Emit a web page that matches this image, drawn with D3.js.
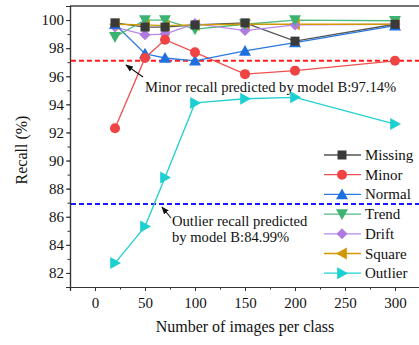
<!DOCTYPE html>
<html lang="en">
<head>
<meta charset="utf-8">
<title>Recall vs images per class</title>
<script src="https://d3js.org/d3.v7.min.js"></script>
<style>
  body { margin: 0; background: #fff; }
  text { font-family: "Liberation Serif", "Times New Roman", serif; fill: #111; }
</style>
</head>
<body>
<script>
// data
var images = [20, 50, 70, 100, 150, 200, 300];
var missing = [99.8, 99.5, 99.5, 99.65, 99.8, 98.5, 99.7];
var minor   = [92.3, 97.3, 98.6, 97.7, 96.15, 96.4, 97.1];
var normal  = [99.7, 97.6, 97.3, 97.1, 97.8, 98.4, 99.6];
var trend   = [98.8, 100.0, 100.0, 99.35, 99.7, 100.0, 99.95];
var drift   = [99.5, 98.95, 99.0, 99.75, 99.25, 99.65, 99.7];
var square  = [99.7, 99.65, 99.6, 99.65, 99.7, 99.7, 99.7];
var outlier = [82.7, 85.3, 88.8, 94.1, 94.4, 94.5, 92.6];
var yTicks = [82, 84, 86, 88, 90, 92, 94, 96, 98, 100];
var xTicks = [0, 50, 100, 150, 200, 250, 300];
var minorLine = 97.1, outlierLine = 86.9;

var series = [
  {name: "Missing", v: missing, line: "#555", fill: "#3a3a3a", sym: "square"},
  {name: "Minor",   v: minor,   line: "#f05050", fill: "#ee4444", sym: "circle"},
  {name: "Normal",  v: normal,  line: "#2a78e0", fill: "#1e6fe0", sym: "up"},
  {name: "Trend",   v: trend,   line: "#4cbb7f", fill: "#3cb371", sym: "down"},
  {name: "Drift",   v: drift,   line: "#b888e8", fill: "#b07be0", sym: "diamond"},
  {name: "Square",  v: square,  line: "#d09a00", fill: "#cf9700", sym: "left"},
  {name: "Outlier", v: outlier, line: "#22d0d0", fill: "#1ccfd0", sym: "right"}
];

var W = 419, H = 345;
var x = d3.scaleLinear().domain([-25, 325]).range([70, 420]);
var y = d3.scaleLinear().domain([81, 101]).range([287, 6]);

var svg = d3.select("body").append("svg").attr("width", W).attr("height", H);

function tri(dir, s) {
  // s = half size
  var p;
  if (dir == "up") p = [[0, -s], [s, s * 0.8], [-s, s * 0.8]];
  if (dir == "down") p = [[0, s], [s, -s * 0.8], [-s, -s * 0.8]];
  if (dir == "left") p = [[-s, 0], [s * 0.8, -s], [s * 0.8, s]];
  if (dir == "right") p = [[s, 0], [-s * 0.8, -s], [-s * 0.8, s]];
  return "M" + p.map(function(q) { return q.join(","); }).join("L") + "Z";
}
function marker(g, sym, color) {
  if (sym == "square") g.append("rect").attr("x", -4.5).attr("y", -4.5).attr("width", 9).attr("height", 9).attr("fill", color);
  else if (sym == "circle") g.append("circle").attr("r", 5).attr("fill", color);
  else if (sym == "diamond") g.append("path").attr("d", "M0,-5.5L5.5,0L0,5.5L-5.5,0Z").attr("fill", color);
  else g.append("path").attr("d", tri(sym, 6)).attr("fill", color);
}

// frame: top border and axes
svg.append("line").attr("x1", 70).attr("x2", 420).attr("y1", 6).attr("y2", 6)
  .attr("stroke", "#444").attr("stroke-width", 1.3);

var yAxis = svg.append("g").attr("transform", "translate(70,0)")
  .call(d3.axisLeft(y).tickValues(yTicks).tickSize(4).tickPadding(2).tickFormat(d3.format("d")));
svg.append("g").attr("transform", "translate(70,0)")
  .call(d3.axisLeft(y).tickValues(d3.range(81, 102, 1)).tickSize(2.5).tickFormat(""));
var xAxis = svg.append("g").attr("transform", "translate(0,287)")
  .call(d3.axisBottom(x).tickValues(xTicks).tickSize(4).tickPadding(6).tickFormat(d3.format("d")));
svg.append("g").attr("transform", "translate(0,287)")
  .call(d3.axisBottom(x).tickValues(d3.range(-25, 326, 25)).tickSize(2.5).tickFormat(""));
svg.selectAll(".domain").attr("stroke", "#333").attr("stroke-width", 1.2);
svg.selectAll(".tick line").attr("stroke", "#333");
svg.selectAll(".tick text").style("font-size", "15px").attr("fill", "#111");

svg.append("text").attr("transform", "translate(27,150) rotate(-90)")
  .attr("text-anchor", "middle").style("font-size", "16px").text("Recall (%)");
svg.append("text").attr("x", 245).attr("y", 332)
  .attr("text-anchor", "middle").style("font-size", "16px").text("Number of images per class");

// reference lines
svg.append("line").attr("x1", 71).attr("x2", 420).attr("y1", y(minorLine)).attr("y2", y(minorLine))
  .attr("stroke", "#ff1a1a").attr("stroke-width", 2).attr("stroke-dasharray", "5,3");
svg.append("line").attr("x1", 71).attr("x2", 420).attr("y1", y(outlierLine)).attr("y2", y(outlierLine))
  .attr("stroke", "#1a1aff").attr("stroke-width", 2).attr("stroke-dasharray", "5,3");

// series lines then markers
var line = d3.line().x(function(d, i) { return x(images[i]); }).y(function(d) { return y(d); });
series.forEach(function(s) {
  svg.append("path").datum(s.v).attr("d", line).attr("fill", "none")
    .attr("stroke", s.line).attr("stroke-width", 1.3);
});
series.slice().reverse().forEach(function(s) {
  s.v.forEach(function(v, i) {
    var g = svg.append("g").attr("transform", "translate(" + x(images[i]) + "," + y(v) + ")");
    marker(g, s.sym, s.fill);
  });
});

// annotations
svg.append("defs").append("marker").attr("id", "ah").attr("viewBox", "0 0 10 10")
  .attr("refX", 9).attr("refY", 5).attr("markerWidth", 7).attr("markerHeight", 7).attr("orient", "auto")
  .append("path").attr("d", "M0,1L10,5L0,9Z").attr("fill", "#111");
svg.append("line").attr("x1", 143).attr("y1", 77).attr("x2", 126).attr("y2", 65)
  .attr("stroke", "#111").attr("stroke-width", 1.1).attr("marker-end", "url(#ah)");
svg.append("text").attr("x", 145).attr("y", 92).style("font-size", "14.6px")
  .text("Minor recall predicted by model B:97.14%");
svg.append("line").attr("x1", 171).attr("y1", 218).attr("x2", 162).attr("y2", 207)
  .attr("stroke", "#111").attr("stroke-width", 1.1).attr("marker-end", "url(#ah)");
svg.append("text").attr("x", 172).attr("y", 226).style("font-size", "14.6px").text("Outlier recall predicted");
svg.append("text").attr("x", 172).attr("y", 242).style("font-size", "14.6px").text("by model B:84.99%");

// legend
series.forEach(function(s, i) {
  var ly = 155 + i * 19.7;
  svg.append("line").attr("x1", 324).attr("x2", 361).attr("y1", ly).attr("y2", ly)
    .attr("stroke", s.line).attr("stroke-width", 1.3);
  var g = svg.append("g").attr("transform", "translate(342," + ly + ")");
  marker(g, s.sym, s.fill);
  svg.append("text").attr("x", 365).attr("y", ly + 5).style("font-size", "15px").text(s.name);
});
</script>
</body>
</html>
